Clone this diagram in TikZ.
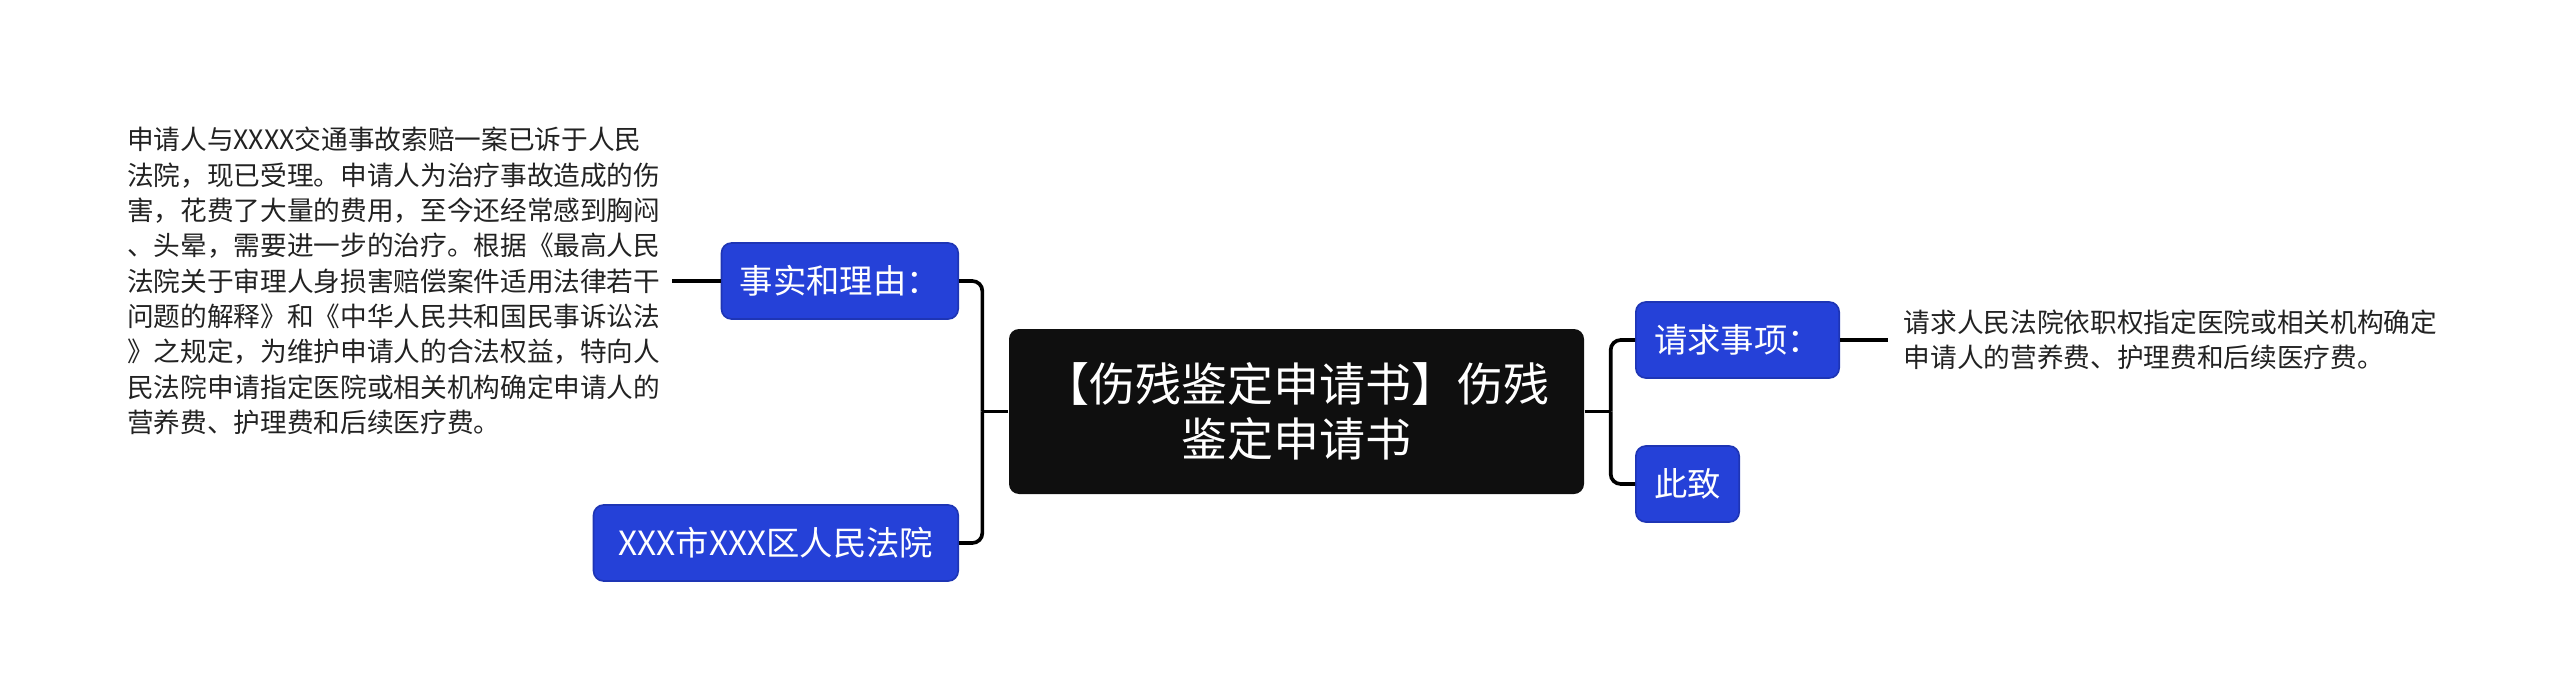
\documentclass[tikz,border=0pt]{standalone}
\usepackage{fontspec}
\usepackage{xcolor}
\usetikzlibrary{positioning,calc}
\setmainfont{Noto Sans CJK SC}
\definecolor{topicblue}{HTML}{2541D8}
\definecolor{topicedge}{HTML}{1E35B5}
\definecolor{rootblack}{HTML}{0F0F0F}
\definecolor{bodytext}{HTML}{222222}

\begin{document}
\begin{tikzpicture}[x=0.3pt,y=-0.3pt,
    root/.style={rectangle,rounded corners=3pt,fill=rootblack,text=white,minimum width=172.5pt,minimum height=49.5pt,align=center,font=\fontsize{13.8}{16.7}\selectfont},
    topic/.style={rectangle,rounded corners=3pt,fill=topicblue,draw=topicedge,line width=0.5pt,text=white,minimum height=22.8pt,inner xsep=5.5pt,font=\fontsize{10}{11.5}\selectfont},
    body/.style={align=left,text=bodytext,inner ysep=0pt,font=\fontsize{8}{10.6}\selectfont},
    link/.style={line width=1.1pt,rounded corners=3pt}]
    \useasboundingbox (0,0) rectangle (2560,698);

    \node[root] (root) at (1296.5, 411.5) {【伤残鉴定申请书】伤残\\鉴定申请书};
    \node[topic,anchor=east] (fact) at (959, 281) {事实和理由：};
    \node[topic,anchor=east,inner xsep=7.5pt] (court) at (959, 543) {XXX市XXX区人民法院};
    \node[topic,anchor=west] (claim) at (1635, 340) {请求事项：};
    \node[topic,anchor=west] (regards) at (1635, 484) {此致};

    \node[body,anchor=east,inner xsep=3.3pt] (facttext) at (672, 281) {申请人与XXXX交通事故索赔一案已诉于人民\\法院，现已受理。申请人为治疗事故造成的伤\\害，花费了大量的费用，至今还经常感到胸闷\\、头晕，需要进一步的治疗。根据《最高人民\\法院关于审理人身损害赔偿案件适用法律若干\\问题的解释》和《中华人民共和国民事诉讼法\\》之规定，为维护申请人的合法权益，特向人\\民法院申请指定医院或相关机构确定申请人的\\营养费、护理费和后续医疗费。};
    \node[body,anchor=west,inner xsep=4.5pt] (claimtext) at (1888, 340) {请求人民法院依职权指定医院或相关机构确定\\申请人的营养费、护理费和后续医疗费。};

    % left branches
    \coordinate (lj) at ($(root.west)+(-26,0)$);
    \draw[link] (root.west) -- (lj);
    \draw[link] (lj) |- (fact.east);
    \draw[link] (lj) |- (court.east);
    \draw[link] (fact.west) -- (facttext.east);

    % right branches
    \coordinate (rj) at ($(root.east)+(26,0)$);
    \draw[link] (root.east) -- (rj);
    \draw[link] (rj) |- (claim.west);
    \draw[link] (rj) |- (regards.west);
    \draw[link] (claim.east) -- (claimtext.west);
\end{tikzpicture}
\end{document}
